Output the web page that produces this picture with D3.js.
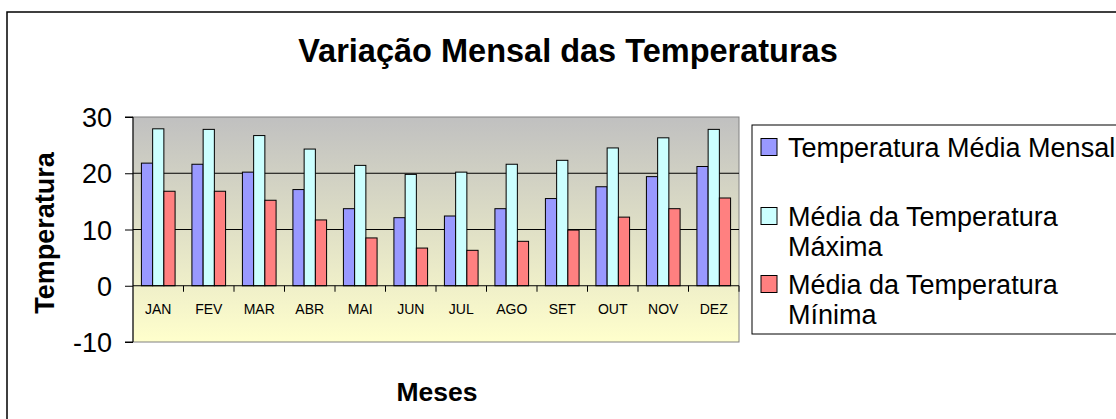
<!DOCTYPE html>
<html><head><meta charset="utf-8">
<script src="https://cdn.jsdelivr.net/npm/d3@7"></script>
<style>body{margin:0;background:#fff;overflow:hidden}svg{display:block;font-family:"Liberation Sans",Arial,sans-serif}</style>
</head><body><svg id="c" width="1116" height="419"></svg>
<script>
const months = ["JAN","FEV","MAR","ABR","MAI","JUN","JUL","AGO","SET","OUT","NOV","DEZ"];
const seriesNames = ["Temperatura Média Mensal","Média da Temperatura Máxima","Média da Temperatura Mínima"];
const media = [21.8,21.6,20.2,17.1,13.7,12.1,12.4,13.7,15.5,17.6,19.4,21.2];
const maxima = [27.9,27.8,26.7,24.3,21.4,19.8,20.2,21.6,22.3,24.5,26.3,27.8];
const minima = [16.8,16.8,15.2,11.7,8.5,6.7,6.3,7.9,9.9,12.2,13.7,15.6];
const yTicks = [-10,0,10,20,30];
const colors = ["#9999FF","#CCFFFF","#FF8080"];

const svg = d3.select("#c");
const L = 133, R = 739, T = 117, B = 342;
const x = d3.scaleBand().domain(months).range([L,R]).paddingInner(0).paddingOuter(0);
const y = d3.scaleLinear().domain([-10,30]).range([B,T]);

// outer chart border
svg.append("rect").attr("x",7).attr("y",12).attr("width",1200).attr("height",600)
  .attr("fill","#fff").attr("stroke","#000").attr("stroke-width",1.5);

// title
svg.append("text").attr("x",568).attr("y",62).attr("text-anchor","middle")
  .attr("font-size",32.5).attr("font-weight","bold").text("Variação Mensal das Temperaturas");

// plot background gradient
const defs = svg.append("defs");
const g = defs.append("linearGradient").attr("id","bg").attr("x1",0).attr("y1",0).attr("x2",0).attr("y2",1);
g.append("stop").attr("offset","0%").attr("stop-color","#C0C0C0");
g.append("stop").attr("offset","100%").attr("stop-color","#FFFFCC");
svg.append("rect").attr("x",L).attr("y",T).attr("width",R-L).attr("height",B-T)
  .attr("fill","url(#bg)").attr("stroke","#808080").attr("stroke-width",1);

// gridlines
svg.append("g").selectAll("line").data([10,20]).join("line")
  .attr("x1",L).attr("x2",R).attr("y1",d=>y(d)).attr("y2",d=>y(d))
  .attr("stroke","#000").attr("stroke-width",1);

// bars
const band = x.bandwidth();
const bw = band/4.5;
const all = [media,maxima,minima];
all.forEach((vals,si)=>{
  svg.append("g").selectAll("rect").data(vals).join("rect")
    .attr("x",(d,i)=>x(months[i]) + band/2 - 1.5*bw + si*bw)
    .attr("y",d=>y(d)).attr("width",bw).attr("height",d=>y(0)-y(d))
    .attr("fill",colors[si]).attr("stroke","#000").attr("stroke-width",1);
});

// x axis at 0
const xa = svg.append("g");
xa.append("line").attr("x1",L).attr("x2",R).attr("y1",y(0)).attr("y2",y(0)).attr("stroke","#000");
xa.selectAll("line.t").data(d3.range(1,13)).join("line").attr("class","t")
  .attr("x1",i=>L+i*band).attr("x2",i=>L+i*band).attr("y1",y(0)).attr("y2",y(0)+6).attr("stroke","#000");
xa.selectAll("text").data(months).join("text")
  .attr("x",d=>x(d)+band/2).attr("y",y(0)+28).attr("text-anchor","middle")
  .attr("font-size",14).text(d=>d);

// y axis
const ya = d3.axisLeft(y).tickValues(yTicks).tickSize(8).tickPadding(13).tickFormat(d=>String(d));
const yg = svg.append("g").attr("transform",`translate(${L},0)`).call(ya);
yg.select(".domain").attr("stroke","#000").attr("d",`M-8,${B}H0V${T}H-8`);
yg.selectAll(".tick line").attr("stroke","#000");
yg.selectAll(".tick text").attr("font-size",27).attr("font-family","Liberation Sans, Arial").attr("fill","#000").attr("dy","0.36em");

// axis titles
svg.append("text").attr("transform","translate(54,233) rotate(-90)").attr("text-anchor","middle")
  .attr("font-size",27).attr("font-weight","bold").text("Temperatura");
svg.append("text").attr("x",437).attr("y",401).attr("text-anchor","middle")
  .attr("font-size",26.5).attr("font-weight","bold").text("Meses");

// legend
svg.append("rect").attr("x",752).attr("y",125).attr("width",500).attr("height",209)
  .attr("fill","#fff").attr("stroke","#000").attr("stroke-width",1);
const legLines = [[seriesNames[0]],["Média da Temperatura","Máxima"],["Média da Temperatura","Mínima"]];
const legY = [147,216,284];
legLines.forEach((lines,i)=>{
  svg.append("rect").attr("x",761).attr("y",legY[i]-8.5).attr("width",16).attr("height",17)
    .attr("fill",colors[i]).attr("stroke","#000").attr("stroke-width",1);
  lines.forEach((t,j)=>{
    svg.append("text").attr("x",788).attr("y",legY[i]+j*30.5).attr("dy","0.36em")
      .attr("font-size",27).text(t);
  });
});
</script></body></html>
